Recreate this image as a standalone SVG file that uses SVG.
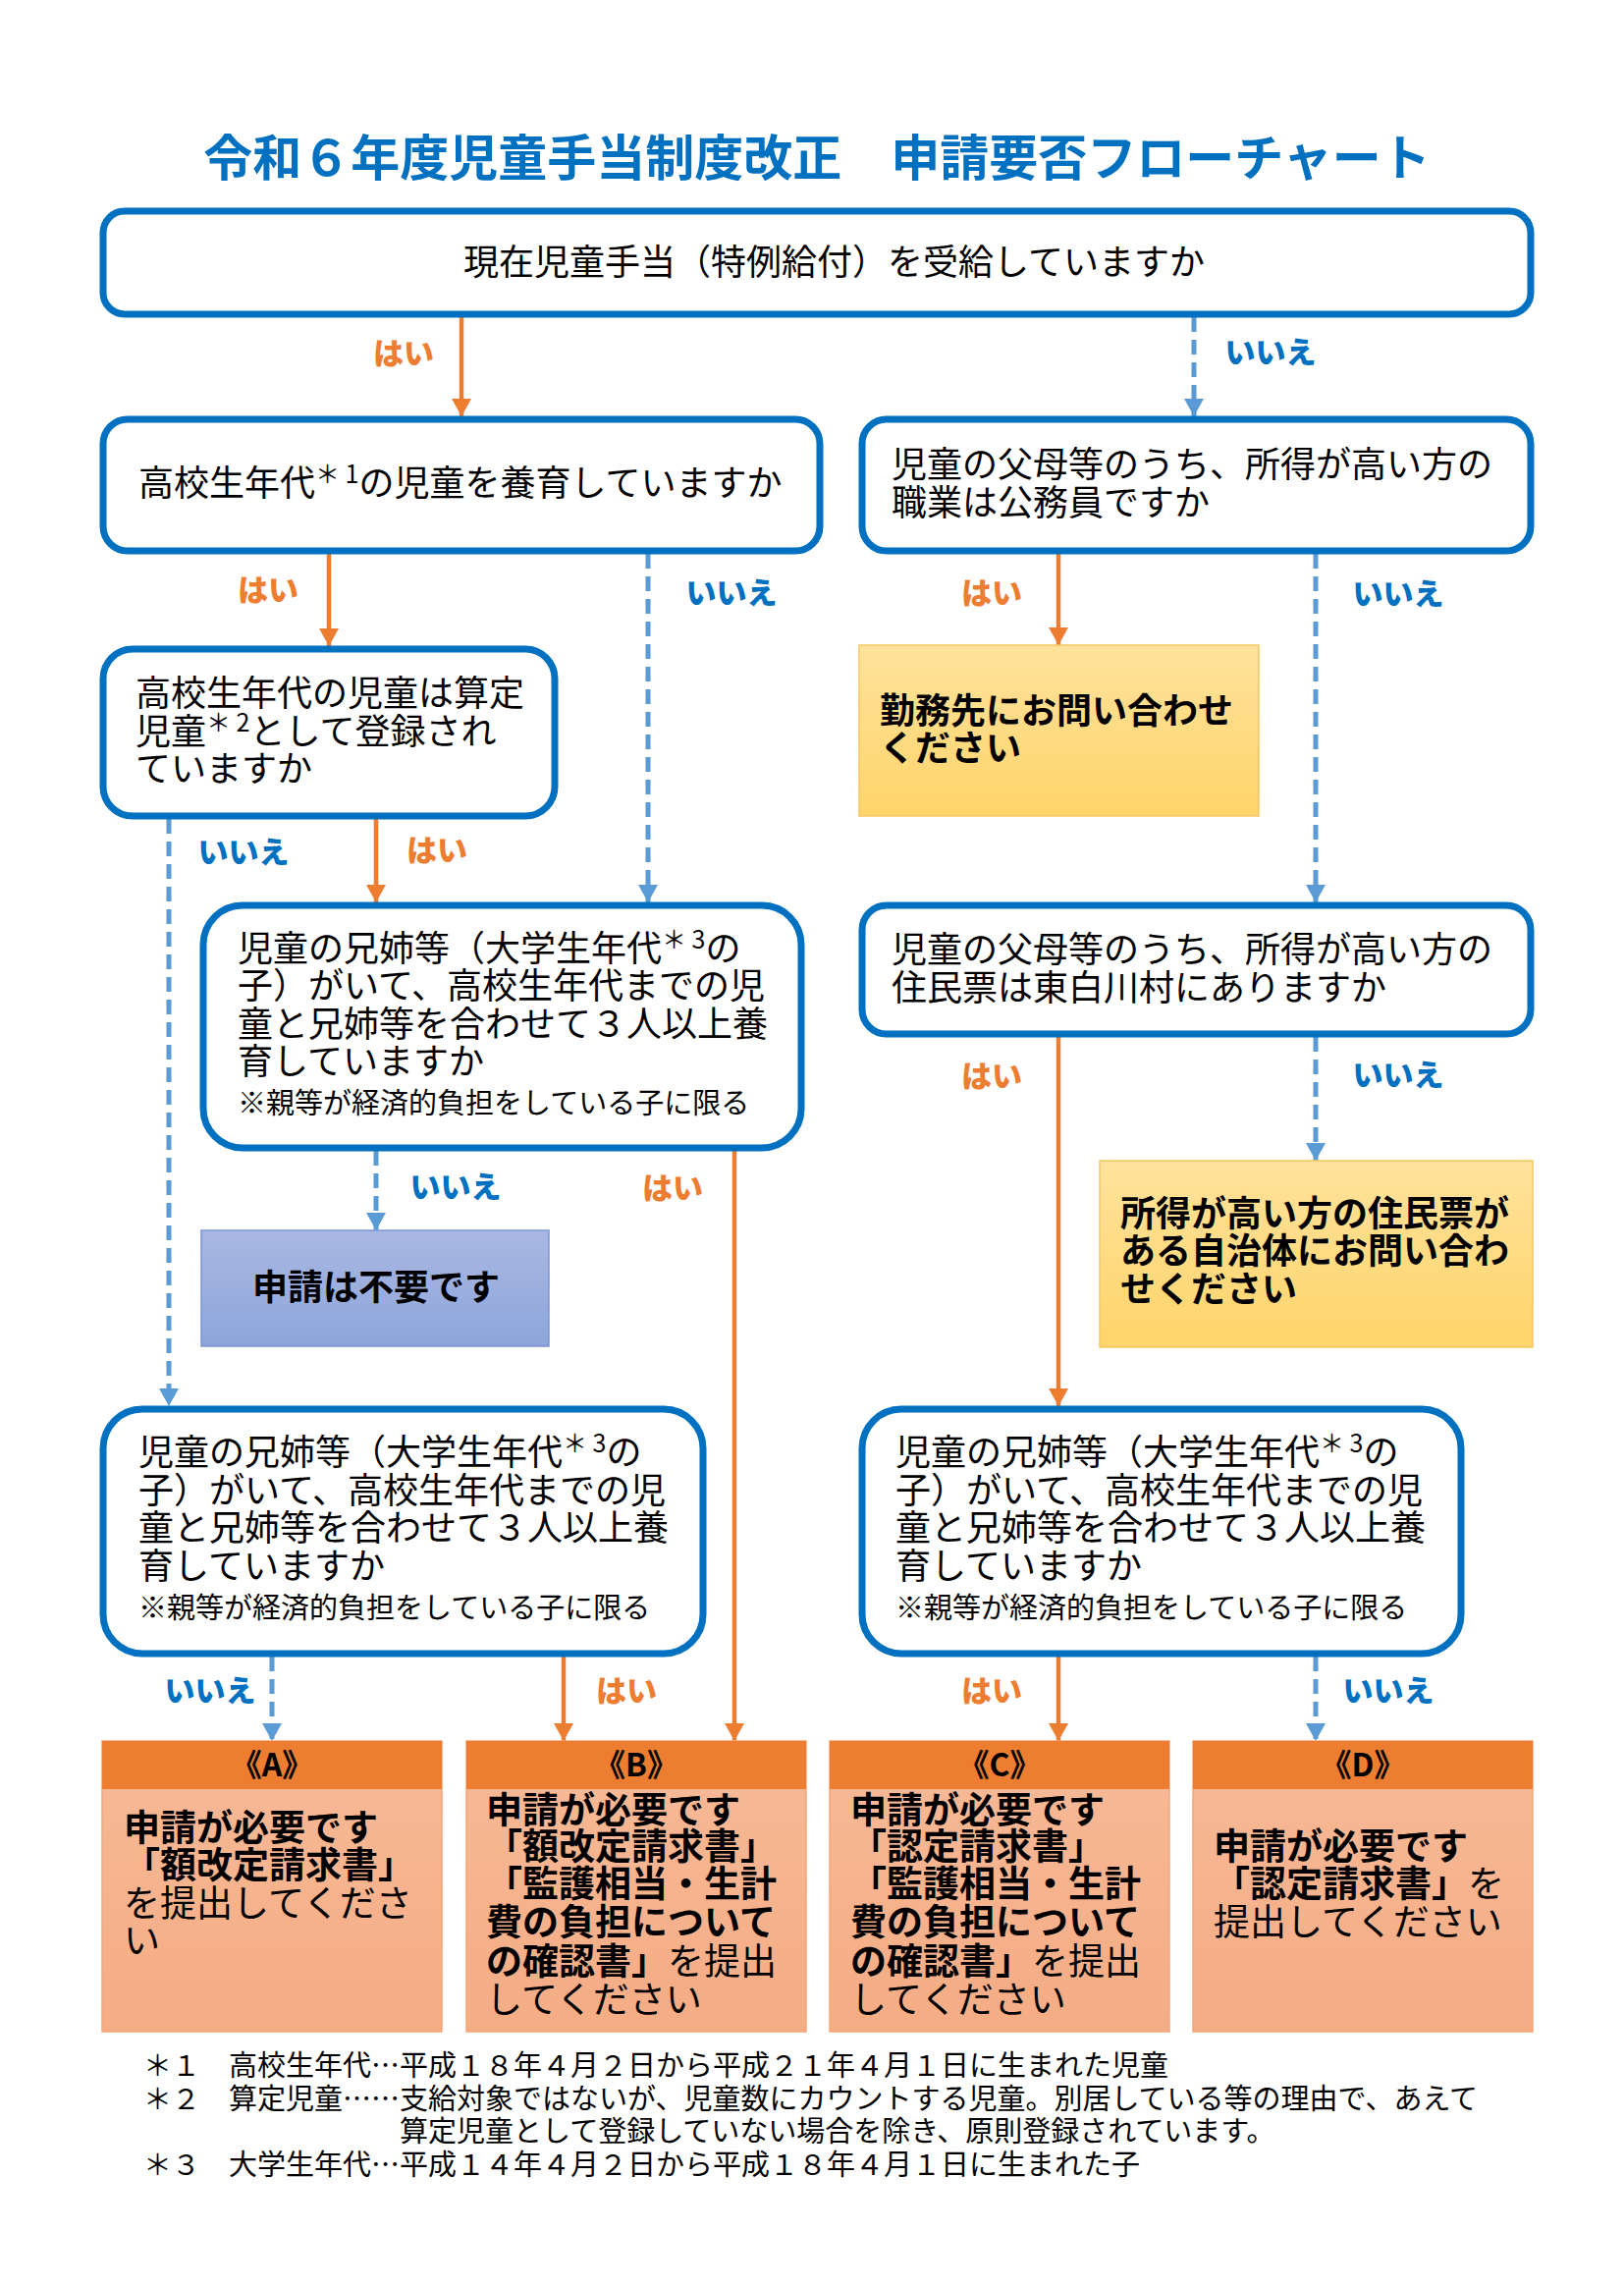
<svg xmlns="http://www.w3.org/2000/svg" width="1654" height="2327" viewBox="0 0 1654 2327">
<style>
text{font-family:"Noto Sans CJK JP","Noto Sans",sans-serif;fill:#000}
.q{font-size:36px}
.r{font-size:37px}
.b{font-weight:bold}
.sm{font-size:29px}
.sup{font-size:25px}
.yes{fill:#ED7D31;font-weight:900;font-size:31px;text-anchor:middle}
.no{fill:#0070C0;font-weight:900;font-size:31px;text-anchor:middle}
.box{fill:#fff;stroke:#0070C0;stroke-width:7}
.cy{stroke:#ED7D31;stroke-width:4.5;fill:none}
.cn{stroke:#5B9BD5;stroke-width:5;stroke-dasharray:15 8;fill:none}
.hd{fill:#ED7D31}
.bd{fill:url(#gS);stroke:#F4A77A;stroke-width:1.5}
.ht{font-size:32px;font-weight:bold;text-anchor:middle}
</style>
<defs>
<marker id="ao" markerUnits="userSpaceOnUse" markerWidth="18" markerHeight="20" refX="18" refY="10" orient="auto"><path d="M0,0 L18,10 L0,20 z" fill="#ED7D31"/></marker>
<marker id="ab" markerUnits="userSpaceOnUse" markerWidth="18" markerHeight="20" refX="18" refY="10" orient="auto"><path d="M0,0 L18,10 L0,20 z" fill="#5B9BD5"/></marker>
<linearGradient id="gY" x1="0" y1="0" x2="0" y2="1"><stop offset="0" stop-color="#FFE29C"/><stop offset="1" stop-color="#FFD46A"/></linearGradient>
<linearGradient id="gB" x1="0" y1="0" x2="0" y2="1"><stop offset="0" stop-color="#A9B8E2"/><stop offset="1" stop-color="#8EA5DB"/></linearGradient>
<linearGradient id="gS" x1="0" y1="0" x2="0" y2="1"><stop offset="0" stop-color="#F7BA98"/><stop offset="1" stop-color="#F4AC84"/></linearGradient>
</defs>
<rect width="1654" height="2327" fill="#fff"/>
<text x="832" y="179" text-anchor="middle" style="font-size:50px;font-weight:bold;fill:#0070C0">令和６年度児童手当制度改正　申請要否フローチャート</text>

<g id="connectors">
<line class="cy" x1="470" y1="323" x2="470" y2="424" marker-end="url(#ao)"/>
<line class="cn" x1="1216" y1="323" x2="1216" y2="424" marker-end="url(#ab)"/>
<line class="cy" x1="335" y1="564" x2="335" y2="658" marker-end="url(#ao)"/>
<line class="cn" x1="660" y1="564" x2="660" y2="919" marker-end="url(#ab)"/>
<line class="cy" x1="1078" y1="564" x2="1078" y2="657" marker-end="url(#ao)"/>
<line class="cn" x1="1340" y1="564" x2="1340" y2="919" marker-end="url(#ab)"/>
<line class="cn" x1="172" y1="834" x2="172" y2="1432" marker-end="url(#ab)"/>
<line class="cy" x1="383" y1="834" x2="383" y2="919" marker-end="url(#ao)"/>
<line class="cn" x1="383" y1="1172" x2="383" y2="1253" marker-end="url(#ab)"/>
<line class="cy" x1="748" y1="1172" x2="748" y2="1773" marker-end="url(#ao)"/>
<line class="cy" x1="1078" y1="1056" x2="1078" y2="1432" marker-end="url(#ao)"/>
<line class="cn" x1="1340" y1="1056" x2="1340" y2="1182" marker-end="url(#ab)"/>
<line class="cn" x1="277" y1="1687" x2="277" y2="1773" marker-end="url(#ab)"/>
<line class="cy" x1="574" y1="1687" x2="574" y2="1773" marker-end="url(#ao)"/>
<line class="cy" x1="1078" y1="1687" x2="1078" y2="1773" marker-end="url(#ao)"/>
<line class="cn" x1="1340" y1="1687" x2="1340" y2="1773" marker-end="url(#ab)"/>
<text class="yes" x="411" y="371">はい</text>
<text class="no" x="1294" y="370">いいえ</text>
<text class="yes" x="273" y="612">はい</text>
<text class="no" x="745" y="615">いいえ</text>
<text class="yes" x="1010" y="615">はい</text>
<text class="no" x="1424" y="616">いいえ</text>
<text class="no" x="248" y="879">いいえ</text>
<text class="yes" x="445" y="877">はい</text>
<text class="no" x="464" y="1220">いいえ</text>
<text class="yes" x="685" y="1221">はい</text>
<text class="yes" x="1010" y="1107">はい</text>
<text class="no" x="1424" y="1106">いいえ</text>
<text class="no" x="214" y="1733">いいえ</text>
<text class="yes" x="638" y="1733">はい</text>
<text class="yes" x="1010" y="1733">はい</text>
<text class="no" x="1414" y="1733">いいえ</text>
</g>

<g id="q1">
<rect class="box" x="105" y="215" width="1454" height="105" rx="22"/>
<text class="q" x="472" y="280">現在児童手当（特例給付）を受給していますか</text>
</g>
<g id="q2">
<rect class="box" x="105" y="427" width="730" height="134" rx="25"/>
<text class="q" x="141" y="505">高校生年代<tspan class="sup" dy="-13">＊ 1</tspan><tspan dy="13">の児童を養育していますか</tspan></text>
</g>
<g id="q3">
<rect class="box" x="878" y="427" width="681" height="134" rx="25"/>
<text class="q" x="908" y="486">児童の父母等のうち、所得が高い方の</text>
<text class="q" x="908" y="525">職業は公務員ですか</text>
</g>
<g id="q4">
<rect class="box" x="105" y="661" width="460" height="170" rx="30"/>
<text class="q" x="138" y="719">高校生年代の児童は算定</text>
<text class="q" x="138" y="758">児童<tspan class="sup" dy="-13">＊ 2</tspan><tspan dy="13">として登録され</tspan></text>
<text class="q" x="138" y="796">ていますか</text>
</g>
<g id="r-work">
<rect x="875" y="657" width="407" height="174" fill="url(#gY)" stroke="#F5C864" stroke-width="1.5"/>
<text class="q b" x="896" y="737">勤務先にお問い合わせ</text>
<text class="q b" x="896" y="775">ください</text>
</g>
<g id="q5">
<rect class="box" x="207" y="922" width="609" height="247" rx="40"/>
<text class="q" x="242" y="979">児童の兄姉等（大学生年代<tspan class="sup" dy="-13">＊ 3</tspan><tspan dy="13">の</tspan></text>
<text class="q" x="242" y="1017">子）がいて、高校生年代までの児</text>
<text class="q" x="242" y="1056">童と兄姉等を合わせて３人以上養</text>
<text class="q" x="242" y="1094">育していますか</text>
<text class="sm" x="242" y="1134">※親等が経済的負担をしている子に限る</text>
</g>
<g id="q6">
<rect class="box" x="878" y="922" width="681" height="131" rx="25"/>
<text class="q" x="908" y="980">児童の父母等のうち、所得が高い方の</text>
<text class="q" x="908" y="1019">住民票は東白川村にありますか</text>
</g>
<g id="r-none">
<rect x="205" y="1253" width="354" height="118" fill="url(#gB)" stroke="#7C95D4" stroke-width="1.5"/>
<text class="q b" x="383" y="1324" text-anchor="middle">申請は不要です</text>
</g>
<g id="r-city">
<rect x="1120" y="1182" width="441" height="190" fill="url(#gY)" stroke="#F5C864" stroke-width="1.5"/>
<text class="q b" x="1141" y="1249">所得が高い方の住民票が</text>
<text class="q b" x="1141" y="1287">ある自治体にお問い合わ</text>
<text class="q b" x="1141" y="1326">せください</text>
</g>
<g id="q7">
<rect class="box" x="105" y="1435" width="611" height="249" rx="40"/>
<text class="q" x="141" y="1492">児童の兄姉等（大学生年代<tspan class="sup" dy="-13">＊ 3</tspan><tspan dy="13">の</tspan></text>
<text class="q" x="141" y="1531">子）がいて、高校生年代までの児</text>
<text class="q" x="141" y="1569">童と兄姉等を合わせて３人以上養</text>
<text class="q" x="141" y="1608">育していますか</text>
<text class="sm" x="141" y="1648">※親等が経済的負担をしている子に限る</text>
</g>
<g id="q8">
<rect class="box" x="878" y="1435" width="610" height="249" rx="40"/>
<text class="q" x="912" y="1492">児童の兄姉等（大学生年代<tspan class="sup" dy="-13">＊ 3</tspan><tspan dy="13">の</tspan></text>
<text class="q" x="912" y="1531">子）がいて、高校生年代までの児</text>
<text class="q" x="912" y="1569">童と兄姉等を合わせて３人以上養</text>
<text class="q" x="912" y="1608">育していますか</text>
<text class="sm" x="912" y="1648">※親等が経済的負担をしている子に限る</text>
</g>

<g id="result-A">
<rect class="bd" x="104" y="1773" width="346" height="296"/>
<rect class="hd" x="104" y="1773" width="346" height="49"/>
<text class="ht" x="277" y="1809">《A》</text>
<text class="r b" x="126" y="1875">申請が必要です</text>
<text class="r b" x="126" y="1913">「額改定請求書」</text>
<text class="r" x="126" y="1952">を提出してくださ</text>
<text class="r" x="126" y="1990">い</text>
</g>
<g id="result-B">
<rect class="bd" x="475" y="1773" width="346" height="296"/>
<rect class="hd" x="475" y="1773" width="346" height="49"/>
<text class="ht" x="648" y="1809">《B》</text>
<text class="r b" x="495" y="1857">申請が必要です</text>
<text class="r b" x="495" y="1894">「額改定請求書」</text>
<text class="r b" x="495" y="1932">「監護相当・生計</text>
<text class="r b" x="495" y="1971">費の負担について</text>
<text class="r" x="495" y="2011"><tspan class="b">の確認書」</tspan>を提出</text>
<text class="r" x="495" y="2050">してください</text>
</g>
<g id="result-C">
<rect class="bd" x="845" y="1773" width="346" height="296"/>
<rect class="hd" x="845" y="1773" width="346" height="49"/>
<text class="ht" x="1018" y="1809">《C》</text>
<text class="r b" x="866" y="1857">申請が必要です</text>
<text class="r b" x="866" y="1894">「認定請求書」</text>
<text class="r b" x="866" y="1932">「監護相当・生計</text>
<text class="r b" x="866" y="1971">費の負担について</text>
<text class="r" x="866" y="2011"><tspan class="b">の確認書」</tspan>を提出</text>
<text class="r" x="866" y="2050">してください</text>
</g>
<g id="result-D">
<rect class="bd" x="1215" y="1773" width="346" height="296"/>
<rect class="hd" x="1215" y="1773" width="346" height="49"/>
<text class="ht" x="1388" y="1809">《D》</text>
<text class="r b" x="1236" y="1894">申請が必要です</text>
<text class="r" x="1236" y="1932"><tspan class="b">「認定請求書」</tspan>を</text>
<text class="r" x="1236" y="1971">提出してください</text>
</g>

<g id="footnotes">
<text class="sm" x="146" y="2114">＊１　高校生年代…平成１８年４月２日から平成２１年４月１日に生まれた児童</text>
<text class="sm" x="146" y="2148">＊２　算定児童……支給対象ではないが、児童数にカウントする児童。別居している等の理由で、あえて</text>
<text class="sm" x="407" y="2181">算定児童として登録していない場合を除き、原則登録されています。</text>
<text class="sm" x="146" y="2215">＊３　大学生年代…平成１４年４月２日から平成１８年４月１日に生まれた子</text>
</g>
</svg>
